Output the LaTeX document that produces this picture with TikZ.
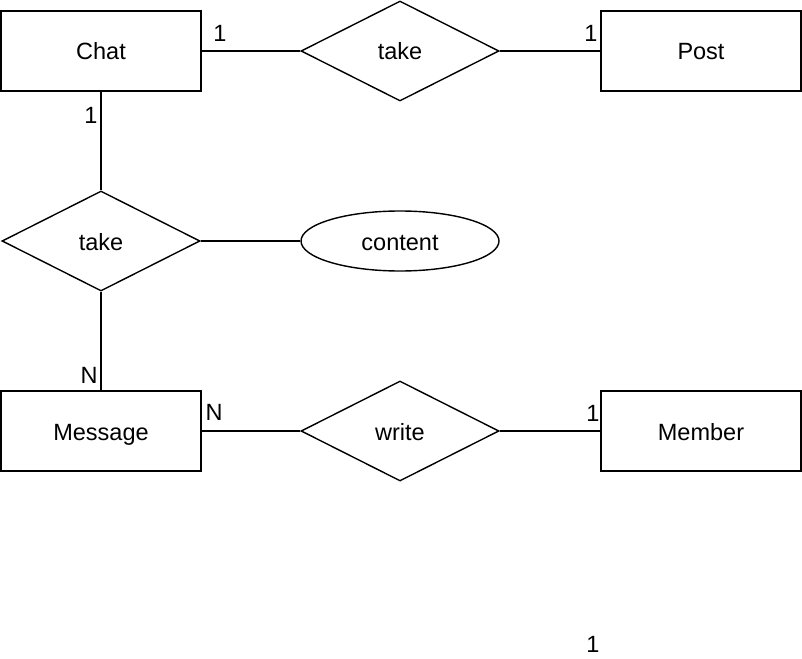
\documentclass[tikz,border=0pt]{standalone}
\usepackage{fontspec}
\setmainfont{Liberation Sans}
\usetikzlibrary{shapes.geometric}
\begin{document}
\begin{tikzpicture}[x=1pt,y=-1pt,line width=1.4pt,
    every node/.style={text height=18pt,text depth=0pt},
    entity/.style={draw,rectangle,minimum width=200pt,minimum height=80pt,inner sep=0pt},
    relation/.style={draw,diamond,minimum width=198pt,minimum height=100pt,inner sep=0pt},
    attrib/.style={draw,ellipse,minimum width=198pt,minimum height=60pt,inner sep=0pt},
    card/.style={inner sep=0pt}]
        \useasboundingbox (0,0) rectangle (802,658);
        \fontsize{23.5}{27}\selectfont
        \node[entity] (chat) at (101,51) {Chat};
        \node[relation] (takepost) at (400,51) {take};
        \node[entity] (post) at (701,51) {Post};
        \node[relation] (takemsg) at (101,241) {take};
        \node[attrib] (content) at (400,241) {content};
        \node[entity] (message) at (101,431) {Message};
        \node[relation] (write) at (400,431) {write};
        \node[entity] (member) at (701,431) {Member};
        \draw (chat) -- (takepost);
        \draw (takepost) -- (post);
        \draw (chat) -- (takemsg);
        \draw (takemsg) -- (content);
        \draw (takemsg) -- (message);
        \draw (message) -- (write);
        \draw (write) -- (member);
        \node[card] (c1) at (220,33) {1};
        \node[card] (c2) at (591,33) {1};
        \node[card] (c3) at (91,114) {1};
        \node[card] (c4) at (89,374) {N};
        \node[card] (c5) at (214,411) {N};
        \node[card] (c6) at (593,412) {1};
        \node[card] (c7) at (593,643) {1};
    \end{tikzpicture}
\end{document}
